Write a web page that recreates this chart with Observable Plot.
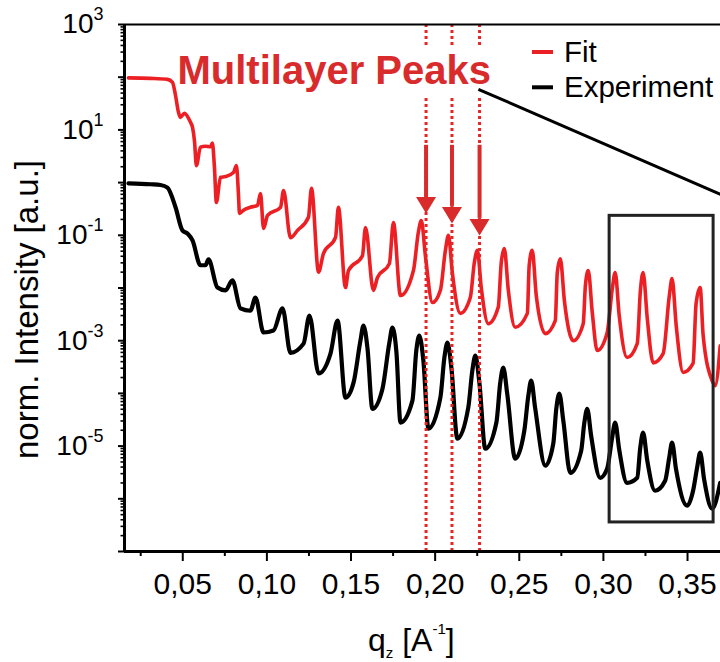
<!DOCTYPE html>
<html>
<head>
<meta charset="utf-8">
<script src="https://cdn.jsdelivr.net/npm/d3@7"></script>
<script src="https://cdn.jsdelivr.net/npm/@observablehq/plot@0.6"></script>
<style>
  html, body { margin: 0; padding: 0; background: #fff; }
  #chart { position: relative; width: 720px; height: 662px; overflow: hidden; }
  svg text { white-space: pre; }
</style>
</head>
<body>
<div id="chart"></div>
<script>
// ---------- data ----------
// Fit (red) curve: q_z [1/A] and normalised intensity
const fitQ = [
  0.0177, 0.0308, 0.0409, 0.0439, 0.0457, 0.0474, 0.0486, 0.0510, 0.0546, 0.0558,
  0.0570, 0.0581, 0.0605, 0.0635, 0.0665, 0.0676, 0.0688, 0.0700, 0.0724, 0.0754,
  0.0801, 0.0819, 0.0831, 0.0837, 0.0861, 0.0902, 0.0944, 0.0962, 0.0980, 0.1004,
  0.1081, 0.1099, 0.1140, 0.1182, 0.1247, 0.1265, 0.1307, 0.1336, 0.1408, 0.1425,
  0.1467, 0.1485, 0.1568, 0.1586, 0.1633, 0.1657, 0.1728, 0.1752, 0.1794, 0.1871,
  0.1900, 0.1918, 0.1942, 0.1984, 0.2031, 0.2061, 0.2079, 0.2102, 0.2150, 0.2209,
  0.2233, 0.2251, 0.2274, 0.2316, 0.2375, 0.2393, 0.2411, 0.2435, 0.2476, 0.2548,
  0.2559, 0.2577, 0.2601, 0.2655, 0.2714, 0.2726, 0.2744, 0.2768, 0.2821, 0.2880,
  0.2893, 0.2910, 0.2934, 0.2963, 0.3022, 0.3053, 0.3070, 0.3094, 0.3141, 0.3201,
  0.3220, 0.3236, 0.3261, 0.3296, 0.3355, 0.3392, 0.3408, 0.3433, 0.3474, 0.3533,
  0.3551, 0.3575, 0.3593, 0.3646, 0.3664, 0.3694
];
const fitIntensity = [
  97, 95, 91, 80, 45, 22, 17.3, 20.6, 13.9, 11.2,
  6, 2.1, 4.7, 4.9, 4.8, 5.6, 2.0, 0.42, 1.26, 1.3,
  1.55, 2.1, 0.6, 0.26, 0.30, 0.34, 0.37, 0.62, 0.135, 0.24,
  0.34, 0.71, 0.09, 0.124, 0.22, 0.78, 0.02, 0.045, 0.091, 0.34,
  0.0102, 0.0215, 0.041, 0.141, 0.009, 0.0158, 0.029, 0.175, 0.0072, 0.0215,
  0.113, 0.19, 0.041, 0.0053, 0.009, 0.052, 0.10, 0.0197, 0.0033, 0.0066,
  0.0305, 0.052, 0.0102, 0.0021, 0.0043, 0.0305, 0.056, 0.009, 0.0018, 0.0033,
  0.0267, 0.052, 0.0072, 0.00136, 0.0024, 0.0197, 0.036, 0.0058, 0.001, 0.0021,
  0.0111, 0.0215, 0.0034, 0.00065, 0.0014, 0.0098, 0.0197, 0.003, 0.00048, 0.00088,
  0.009, 0.0197, 0.0026, 0.00038, 0.00057, 0.0072, 0.0151, 0.0019, 0.00025, 0.00037,
  0.0051, 0.0102, 0.00125, 0.000175, 0.00014, 0.0008
];

// Experiment (black) curve
const expQ = [
  0.0177, 0.0308, 0.0368, 0.0409, 0.0457, 0.0498, 0.0528, 0.0558, 0.0605, 0.0635,
  0.0653, 0.0706, 0.0754, 0.0795, 0.0843, 0.0902, 0.0932, 0.0980, 0.1039, 0.1093,
  0.1140, 0.1218, 0.1253, 0.1307, 0.1378, 0.1420, 0.1467, 0.1515, 0.1556, 0.1574,
  0.1598, 0.1627, 0.1687, 0.1728, 0.1746, 0.1770, 0.1794, 0.1865, 0.1888, 0.1906,
  0.1930, 0.1960, 0.2031, 0.2055, 0.2073, 0.2097, 0.2132, 0.2197, 0.2221, 0.2239,
  0.2263, 0.2298, 0.2364, 0.2387, 0.2405, 0.2429, 0.2476, 0.2530, 0.2554, 0.2571,
  0.2594, 0.2655, 0.2702, 0.2720, 0.2738, 0.2762, 0.2803, 0.2868, 0.2886, 0.2904,
  0.2927, 0.2981, 0.3022, 0.3052, 0.3070, 0.3094, 0.3141, 0.3201, 0.3219, 0.3236,
  0.3260, 0.3307, 0.3367, 0.3391, 0.3408, 0.3432, 0.3498, 0.3533, 0.3557, 0.3575,
  0.3599, 0.3646, 0.3694
];
const expIntensity = [
  0.97, 0.93, 0.9, 0.8, 0.34, 0.124, 0.108, 0.08, 0.027, 0.027,
  0.035, 0.0102, 0.009, 0.0139, 0.0041, 0.0037, 0.0066, 0.00143, 0.00156, 0.0041,
  0.00059, 0.00088, 0.003, 0.00024, 0.00057, 0.0024, 8.3e-5, 1.6e-4, 1.0e-3, 1.94e-3,
  7.1e-4, 5.1e-5, 1.23e-4, 9.2e-4, 1.77e-3, 5.96e-4, 2.8e-5, 7.3e-5, 6.5e-4, 1.25e-3,
  4.2e-4, 2.14e-5, 8.3e-5, 4.8e-4, 9.2e-4, 2.96e-4, 1.38e-5, 5.4e-5, 2.7e-4, 5.2e-4,
  1.6e-4, 8.9e-6, 2.8e-5, 1.6e-4, 3.1e-4, 9.5e-5, 5.75e-6, 1.96e-5, 9.1e-5, 1.75e-4,
  5.4e-5, 4.24e-6, 1.11e-5, 5.1e-5, 9.9e-5, 3.0e-5, 3.1e-6, 8.2e-6, 2.67e-5, 5.1e-5,
  1.58e-5, 2.5e-6, 3.7e-6, 1.45e-5, 2.8e-5, 8.55e-6, 2.0e-6, 2.5e-6, 9.3e-6, 1.8e-5,
  5.5e-6, 1.42e-6, 2.2e-6, 6.0e-6, 1.16e-5, 3.6e-6, 7.4e-7, 1.42e-6, 3.9e-6, 7.5e-6,
  2.3e-6, 6.5e-7, 2.0e-6
];

// Axis ticks
const xDomain = [0.01537, 0.3696];
const yDomain = [1e-7, 1e3];
const xTicks = [0.05, 0.10, 0.15, 0.20, 0.25, 0.30, 0.35];
const xMinorTicks = [0.025, 0.075, 0.125, 0.175, 0.225, 0.275, 0.325];
const yDecades = [1e-7, 1e-6, 1e-5, 1e-4, 1e-3, 1e-2, 1e-1, 1e0, 1e1, 1e2, 1e3];
const yLabelExponents = [3, 1, -1, -3, -5];
const yMinorMultipliers = [2, 3, 4, 5, 6, 7, 8, 9];

// Annotations: multilayer peak markers
const peakQ = [0.1946, 0.2100, 0.2264];
const arrowStart = [5.1, 5.1, 5.1];
const arrowBase = [0.524, 0.353, 0.209];
const arrowTip = [0.26, 0.168, 0.0993];
const dotGapTop = [355, 355, 355];
const dotGapBottom = [39.6, 39.6, 39.6];
// zoom box and connector line
const boxQ = [0.3037, 0.3655];
const boxIntensity = [3.56e-7, 0.234];
const linkQ = [0.2257, 0.3696];
const linkIntensity = [59, 0.60];

const legendLabels = ["Fit", "Experiment"];

// ---------- build tables ----------
const fit = fitQ.map((q, i) => ({q, I: fitIntensity[i]}));
const exp = expQ.map((q, i) => ({q, I: expIntensity[i]}));
const yMinor = yDecades.slice(0, -1).flatMap(d => yMinorMultipliers.map(m => m * d));
const peaks = peakQ.map((q, i) => ({q, start: arrowStart[i], base: arrowBase[i], tip: arrowTip[i], gapTop: dotGapTop[i], gapBottom: dotGapBottom[i]}));
const box = [{q1: boxQ[0], q2: boxQ[1], i1: boxIntensity[0], i2: boxIntensity[1]}];
const link = [{q1: linkQ[0], q2: linkQ[1], i1: linkIntensity[0], i2: linkIntensity[1]}];

const fitRed = "#ec2024";
const noteRed = "#d92b2b";
const font = "'Liberation Sans', Arial, Helvetica, sans-serif";

const arrowHead = {
  draw(ctx) {
    const w = 10, h = 16.5;
    ctx.moveTo(0, 0);
    ctx.lineTo(-w, -h);
    ctx.lineTo(w, -h);
    ctx.closePath();
  }
};

const svg = Plot.plot({
  width: 720,
  height: 662,
  marginTop: 24,
  marginBottom: 111,
  marginLeft: 124,
  marginRight: 0,
  style: {fontFamily: font, background: "#fff", color: "#000", overflow: "visible"},
  x: {domain: xDomain},
  y: {type: "log", domain: yDomain},
  marks: [
    // curves
    Plot.line(exp, {x: "q", y: "I", stroke: "#000", strokeWidth: 4.2, curve: "monotone-x", strokeLinejoin: "round"}),
    Plot.line(fit, {x: "q", y: "I", stroke: fitRed, strokeWidth: 3.6, curve: "monotone-x", strokeLinejoin: "round"}),
    // zoom box and connector
    Plot.rect(box, {x1: "q1", x2: "q2", y1: "i1", y2: "i2", fill: "none", stroke: "#222", strokeWidth: 3}),
    Plot.link(link, {x1: "q1", x2: "q2", y1: "i1", y2: "i2", stroke: "#000", strokeWidth: 3}),
    // dotted peak markers
    Plot.ruleX(peaks, {x: "q", y1: 1e3, y2: "gapTop", stroke: "#e32626", strokeWidth: 3, strokeDasharray: "3,3"}),
    Plot.ruleX(peaks, {x: "q", y1: "gapBottom", y2: 1e-7, stroke: "#e32626", strokeWidth: 3, strokeDasharray: "3,3"}),
    // arrows
    Plot.ruleX(peaks, {x: "q", y1: "start", y2: "base", stroke: noteRed, strokeWidth: 4}),
    Plot.dot(peaks, {x: "q", y: "tip", symbol: arrowHead, fill: noteRed, r: 6}),
    // annotation text
    Plot.text(["Multilayer Peaks"], {frameAnchor: "top-left", dx: 53, dy: 59, lineAnchor: "bottom", textAnchor: "start", fontSize: 40, fontWeight: "bold", fill: noteRed}),
    // y title
    Plot.text(["norm. Intensity [a.u.]"], {frameAnchor: "left", dx: -87, dy: 21.5, rotate: -90, textAnchor: "middle", lineAnchor: "bottom", fontSize: 33, fill: "#000"}),
    // axis lines
    Plot.ruleY([1e3], {stroke: "#000", strokeWidth: 2}),
    Plot.ruleX([xDomain[0]], {stroke: "#000", strokeWidth: 3}),
    Plot.ruleY([1e-7], {stroke: "#000", strokeWidth: 3}),
    // axes
    Plot.axisY({ticks: yMinor, tickSize: 3.5, tickFormat: () => "", label: null, strokeWidth: 1.6}),
    Plot.axisY({ticks: yDecades, tickSize: 6, tickPadding: 15, label: null, strokeWidth: 2, fontSize: 28,
      tickFormat: d => { const e = Math.round(Math.log10(d)); return yLabelExponents.includes(e) ? `10^${e}` : ""; }}),
    Plot.axisX({ticks: xMinorTicks, tickSize: 5, tickFormat: () => "", label: null, strokeWidth: 2}),
    Plot.axisX({ticks: xTicks, tickSize: 10, tickPadding: 11, label: null, strokeWidth: 2, fontSize: 30,
      tickFormat: d => d.toFixed(2).replace(".", ",")})
  ]
});

document.getElementById("chart").appendChild(svg);
const s = d3.select(svg);

// superscripts for the y tick labels
s.selectAll('g[aria-label="y-axis tick label"]').attr("font-size", 28);
s.selectAll('g[aria-label="x-axis tick label"]').attr("font-size", 30);
s.selectAll('g[aria-label="y-axis tick label"] text').each(function () {
  const txt = this.textContent;
  if (!txt || txt.indexOf("^") < 0) return;
  const [base, exp] = txt.split("^");
  this.textContent = "";
  const t = d3.select(this);
  t.append("tspan").text(base);
  t.append("tspan").attr("dy", -13).attr("font-size", 18).text(exp);
});

// x axis title with sub/superscript
const xt = s.append("text").attr("x", 368).attr("y", 651).attr("font-size", 32).attr("fill", "#000").attr("text-anchor", "start");
xt.append("tspan").text("q");
xt.append("tspan").attr("font-size", 15).attr("dy", 7).text("z");
xt.append("tspan").attr("dy", -7).text(" [A");
xt.append("tspan").attr("font-size", 15).attr("dy", -17).text("-1");
xt.append("tspan").attr("dy", 17).text("]");

// legend (inside the plot, top right)
const legendColors = [fitRed, "#000"];
legendLabels.forEach((label, i) => {
  const cy = 52 + i * 35.3;
  s.append("line").attr("x1", 532).attr("x2", 553).attr("y1", cy).attr("y2", cy)
    .attr("stroke", legendColors[i]).attr("stroke-width", 4);
  s.append("text").attr("x", 564).attr("y", cy + 10).attr("font-size", 29.5)
    .attr("text-anchor", "start").attr("fill", "#000").text(label);
});
</script>
</body>
</html>
